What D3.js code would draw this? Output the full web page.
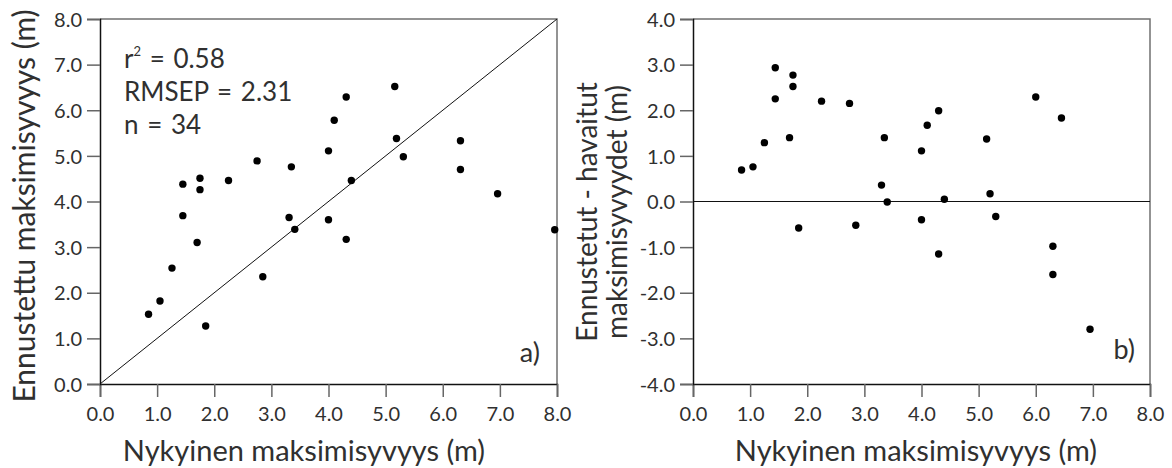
<!DOCTYPE html>
<html>
<head>
<meta charset="utf-8">
<script src="https://cdn.jsdelivr.net/npm/d3@7"></script>
<style>
  html, body { margin: 0; padding: 0; background: #fff; }
  svg { display: block; }
  text { font-family: Lato, Roboto, sans-serif; fill: #303030; }
</style>
</head>
<body>
<svg id="chart" width="1172" height="468"></svg>
<script>
// Panel a: observed vs predicted maximum depth (m)
const observedA  = [0.85, 1.05, 1.26, 1.45, 1.45, 1.70, 1.75, 1.75, 1.85, 2.25, 2.75, 2.85, 3.31, 3.35,
                    3.41, 4.00, 4.00, 4.10, 4.31, 4.31, 4.40, 5.16, 5.19, 5.31, 6.31, 6.31, 6.96, 7.96];
const predictedA = [1.53, 1.82, 2.54, 3.69, 4.38, 3.10, 4.51, 4.26, 1.27, 4.46, 4.89, 2.35, 3.65, 4.76,
                    3.39, 3.60, 5.11, 5.78, 6.29, 3.17, 4.46, 6.52, 5.38, 4.98, 5.33, 4.70, 4.17, 3.38];

// Panel b: observed depth vs residual (predicted - observed, m)
const observedB  = [0.85, 1.05, 1.25, 1.44, 1.44, 1.69, 1.75, 1.75, 1.85, 2.25, 2.74, 2.85, 3.30, 3.35,
                    3.40, 4.00, 4.00, 4.10, 4.30, 4.30, 4.40, 5.14, 5.20, 5.30, 6.00, 6.30, 6.30, 6.45, 6.95];
const residualB  = [0.69, 0.76, 1.29, 2.25, 2.93, 1.40, 2.77, 2.52, -0.58, 2.20, 2.15, -0.52, 0.36, 1.40,
                    -0.01, -0.40, 1.11, 1.67, 1.99, -1.15, 0.05, 1.37, 0.17, -0.33, 2.29, -0.98, -1.60, 1.83, -2.80];

const xTicks  = [0, 1, 2, 3, 4, 5, 6, 7, 8];
const yTicksA = [0, 1, 2, 3, 4, 5, 6, 7, 8];
const yTicksB = [-4, -3, -2, -1, 0, 1, 2, 3, 4];

const statLines = ["RMSEP = 2.31", "n = 34"];
const rSquared = "0.58";

const xTitle  = "Nykyinen maksimisyvyys (m)";
const yTitleA = "Ennustettu maksimisyvyys (m)";
const yTitleB = ["Ennustetut - havaitut", "maksimisyvyydet (m)"];

const svg = d3.select("#chart");
// one decimal, plain hyphen for negatives
const fmt = d3.formatLocale({ decimal: ".", thousands: ",", grouping: [3], currency: ["", ""], minus: "-" })
  .format(".1f");

const plotTop = 19, plotBottom = 384, plotW = 457;
const panels = [
  { left: 100, yDomain: [0, 8], yTicks: yTicksA, tag: "a)", tagEnd: 540, tagY: 362, titleX: 304 },
  { left: 693, yDomain: [-4, 4], yTicks: yTicksB, tag: "b)", tagEnd: 1135, tagY: 359, titleX: 916 }
];

function drawFrame(p) {
  const g = svg.append("g");
  const x = d3.scaleLinear().domain([0, 8]).range([p.left, p.left + plotW]);
  const y = d3.scaleLinear().domain(p.yDomain).range([plotBottom, plotTop]);

  // top and right border (lighter)
  g.append("path")
    .attr("d", `M${p.left},${plotTop}H${p.left + plotW}V${plotBottom}`)
    .attr("fill", "none").attr("stroke", "#707070").attr("stroke-width", 1.5);

  const xAxis = g.append("g").attr("transform", `translate(0,${plotBottom})`)
    .call(d3.axisBottom(x).tickValues(xTicks).tickFormat(fmt).tickSize(13).tickPadding(6));
  const yAxis = g.append("g").attr("transform", `translate(${p.left},0)`)
    .call(d3.axisLeft(y).tickValues(p.yTicks).tickFormat(fmt).tickSize(13).tickPadding(5));

  [xAxis, yAxis].forEach(a => {
    a.select(".domain").attr("stroke", "#111").attr("stroke-width", 1.5);
    a.selectAll(".tick line").attr("stroke", "#666").attr("stroke-width", 1.5);
    a.selectAll(".tick text").attr("font-size", 20).attr("fill", "#333")
      .style("font-family", "Lato, Roboto, sans-serif");
  });
  yAxis.selectAll(".tick text").attr("dy", "0.36em");
  xAxis.selectAll(".tick text").attr("dy", "0.9em");

  g.append("text")
    .attr("x", p.titleX).attr("y", 461)
    .attr("text-anchor", "middle").attr("font-size", 29)
    .text(xTitle);

  g.append("text")
    .attr("x", p.tagEnd).attr("y", p.tagY)
    .attr("text-anchor", "end").attr("font-size", 27)
    .text(p.tag);

  return { g, x, y };
}

// ---- Panel a ----
const A = drawFrame(panels[0]);
A.g.append("line")
  .attr("x1", A.x(0)).attr("y1", A.y(0)).attr("x2", A.x(8)).attr("y2", A.y(8))
  .attr("stroke", "#111").attr("stroke-width", 1);

const ptsA = observedA.map((v, i) => ({ x: v, y: predictedA[i] }))
  .filter(d => d.y >= 0 && d.y <= 8);
A.g.selectAll("circle").data(ptsA).join("circle")
  .attr("cx", d => A.x(d.x)).attr("cy", d => A.y(d.y)).attr("r", 3.7).attr("fill", "#000");

A.g.append("text")
  .attr("transform", `translate(35,206) rotate(-90)`)
  .attr("text-anchor", "middle").attr("font-size", 30)
  .text(yTitleA);

const stats = A.g.append("text").attr("font-size", 26).style("word-spacing", "2px");
const r2 = stats.append("tspan").attr("x", 124).attr("y", 68);
r2.append("tspan").text("r");
r2.append("tspan").attr("font-size", 13).attr("dy", -12).text("2");
r2.append("tspan").attr("dy", 12).text(" = " + rSquared);
statLines.forEach((s, i) => {
  stats.append("tspan").attr("x", 124).attr("y", 101 + i * 32.5).text(s);
});

// ---- Panel b ----
const B = drawFrame(panels[1]);
B.g.append("line")
  .attr("x1", B.x(0)).attr("y1", B.y(0)).attr("x2", B.x(8)).attr("y2", B.y(0))
  .attr("stroke", "#111").attr("stroke-width", 1);

const ptsB = observedB.map((v, i) => ({ x: v, y: residualB[i] }))
  .filter(d => d.y >= -4 && d.y <= 4);
B.g.selectAll("circle").data(ptsB).join("circle")
  .attr("cx", d => B.x(d.x)).attr("cy", d => B.y(d.y)).attr("r", 3.7).attr("fill", "#000");

yTitleB.forEach((t, i) => {
  B.g.append("text")
    .attr("transform", `translate(${597 + i * 30},212) rotate(-90)`)
    .attr("text-anchor", "middle").attr("font-size", 28)
    .text(t);
});
</script>
</body>
</html>
